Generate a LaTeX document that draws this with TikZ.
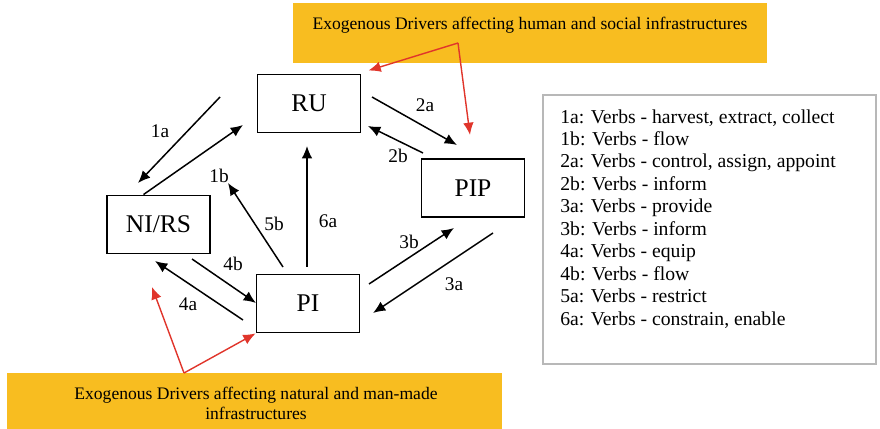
\documentclass[tikz,border=0pt]{standalone}
\usepackage{fontspec}
\setmainfont{Liberation Serif}
\usepackage{tikz}
\usetikzlibrary{arrows.meta}
\definecolor{drvorange}{HTML}{F8BD20}
\definecolor{drvred}{HTML}{E0352B}
\tikzset{
	box/.style={draw=black, line width=1.1pt, minimum width=2.06cm, minimum height=1.16cm, font=\fontsize{14.5}{16}\selectfont, inner sep=0pt},
	flow/.style={line width=0.85pt, -{Latex[length=7pt, width=6pt]}},
	drv/.style={draw=drvred, line width=0.8pt, -{Latex[length=7pt, width=6pt]}},
	lbl/.style={font=\fontsize{11}{12}\selectfont, inner sep=0pt},
}
\begin{document}
\begin{tikzpicture}[x=0.02cm, y=-0.02cm]
		%%%%% START %%%%%
		\useasboundingbox (0, 0) rectangle (880, 429);
		
		% drivers
		\fill[drvorange] (293, 3) rectangle (767, 63);
		\node[font=\fontsize{10}{11}\selectfont] (topdrv) at (530, 25) {Exogenous Drivers affecting human and social infrastructures};
		\fill[drvorange] (7, 373) rectangle (502, 429);
		\node[font=\fontsize{10}{11.4}\selectfont, align=center] (botdrv) at (256, 403.5) {Exogenous Drivers affecting natural and man-made\\infrastructures};
		
		% boxes
		\node[box] (RU) at (309, 103.5) {RU};
		\node[box] (PIP) at (473, 188) {PIP};
		\node[box] (NIRS) at (158.5, 224.5) {NI/RS};
		\node[box] (PI) at (308, 303.5) {PI};
		
		% arrow ends
		\coordinate (a1s) at (220, 97);	\coordinate (a1e) at (138, 183);
		\coordinate (b1e) at (243, 125);
		\coordinate (a2s) at (372, 97);	\coordinate (a2e) at (457, 145);
		\coordinate (b2s) at (423, 153);	\coordinate (b2e) at (368, 126);
		\coordinate (b5s) at (283, 267);	\coordinate (b5e) at (228, 183);
		\coordinate (a6s) at (307, 267);	\coordinate (a6e) at (307, 146);
		\coordinate (b3s) at (369, 284);	\coordinate (b3e) at (454, 228);
		\coordinate (a3s) at (493, 233);	\coordinate (a3e) at (373, 313);
		\coordinate (b4s) at (192, 259);	\coordinate (b4e) at (256, 303);
		\coordinate (a4s) at (243, 320);	\coordinate (a4e) at (155, 261);
		
		\draw[flow] (a1s) -- (a1e);
		\draw[flow] ([xshift=-0.3cm]NIRS.north) -- (b1e);
		\draw[flow] (a2s) -- (a2e);
		\draw[flow] (b2s) -- (b2e);
		\draw[flow] (b5s) -- (b5e);
		\draw[flow] (a6s) -- (a6e);
		\draw[flow] (b3s) -- (b3e);
		\draw[flow] (a3s) -- (a3e);
		\draw[flow] (b4s) -- (b4e);
		\draw[flow] (a4s) -- (a4e);
		
		\node[lbl] (l1a) at (160, 131) {1a};
		\node[lbl] (l1b) at (219, 176) {1b};
		\node[lbl] (l2a) at (425, 105) {2a};
		\node[lbl] (l2b) at (398, 156) {2b};
		\node[lbl] (l5b) at (274, 224) {5b};
		\node[lbl] (l6a) at (328, 221) {6a};
		\node[lbl] (l3b) at (409, 242) {3b};
		\node[lbl] (l3a) at (454, 284) {3a};
		\node[lbl] (l4b) at (233, 264) {4b};
		\node[lbl] (l4a) at (188, 304) {4a};
		
		% driver arrows
		\coordinate (tsplit) at (458, 43);
		\coordinate (bsplit) at (184, 373);
		\coordinate (tpip) at (470, 135);
		\coordinate (bnirs) at (152, 287);
		\draw[drv] (tsplit) -- ([shift={(7, -3)}]RU.north east);
		\draw[drv] (tsplit) -- (tpip);
		\draw[drv] (bsplit) -- (bnirs);
		\draw[drv] (bsplit) -- (PI.south west);
		
		% legend
		\draw[draw=black!28, line width=0.9pt] (543, 95) rectangle (876, 364);
		\node[anchor=north west, align=left, inner sep=0pt, font=\fontsize{11.2}{12.8}\selectfont] (legend) at (560, 109) {1a: Verbs - harvest, extract, collect\\
			1b: Verbs - flow\\
			2a: Verbs - control, assign, appoint\\
			2b: Verbs - inform\\
			3a: Verbs - provide\\
			3b: Verbs - inform\\
			4a: Verbs - equip\\
			4b: Verbs - flow\\
			5a: Verbs - restrict\\
			6a: Verbs - constrain, enable};
		%%%%% END %%%%%
	\end{tikzpicture}
\end{document}
